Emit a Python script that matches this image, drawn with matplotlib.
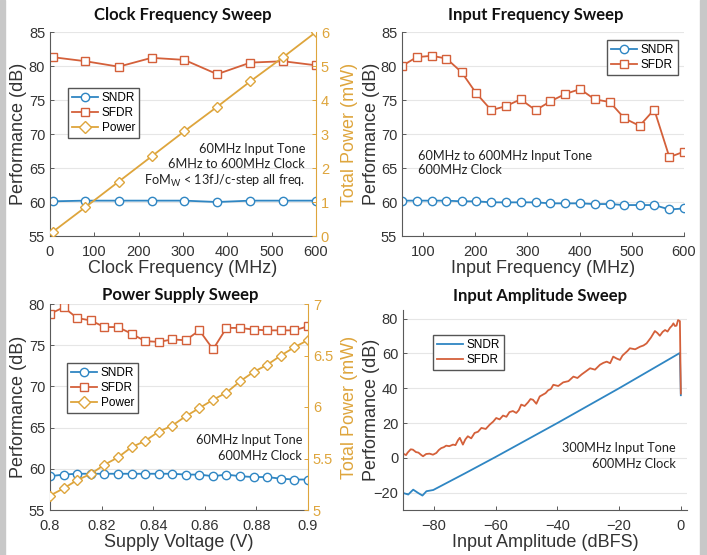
import matplotlib
matplotlib.use("Agg")
import matplotlib.pyplot as plt
from matplotlib.patches import Rectangle
from matplotlib.lines import Line2D

plt.rcParams.update({
    "font.family": ["Liberation Sans", "DejaVu Sans"],
    "font.size": 10,
})

# ---- data ----
# clock frequency sweep
clk_freq = [6, 80, 155, 229, 303, 377, 452, 526, 600]
clk_sndr = [60.1, 60.2, 60.2, 60.2, 60.2, 60.0, 60.2, 60.2, 60.2]
clk_sfdr = [81.3, 80.7, 79.9, 81.2, 80.9, 78.8, 80.5, 80.7, 80.1]
clk_power = [0.12, 0.85, 1.6, 2.34, 3.08, 3.8, 4.55, 5.26, 6.0]

# input frequency sweep
in_freq = [60, 88, 117, 145, 174, 202, 231, 259, 287, 316,
           344, 373, 401, 429, 458, 486, 515, 543, 572, 600]
in_sndr = [60.2, 60.2, 60.2, 60.2, 60.1, 60.1, 59.95, 59.95, 59.95, 59.95,
           59.8, 59.8, 59.8, 59.7, 59.7, 59.55, 59.55, 59.55, 58.9, 59.05]
in_sfdr = [80.0, 81.3, 81.5, 81.1, 79.1, 76.0, 73.5, 74.1, 75.1, 73.5,
           74.8, 75.9, 76.6, 75.1, 74.7, 72.3, 71.2, 73.6, 66.6, 67.4]

# power supply sweep
vdd = [0.8, 0.8053, 0.8105, 0.8158, 0.8211, 0.8263, 0.8316, 0.8368, 0.8421, 0.8474,
       0.8526, 0.8579, 0.8632, 0.8684, 0.8737, 0.8789, 0.8842, 0.8895, 0.8947, 0.9]
vdd_sndr = [59.1, 59.3, 59.4, 59.4, 59.4, 59.4, 59.4, 59.4, 59.4, 59.4,
            59.3, 59.3, 59.1, 59.3, 59.1, 59.0, 59.0, 58.8, 58.7, 58.7]
vdd_sfdr = [78.8, 79.6, 78.3, 78.0, 77.2, 77.2, 76.4, 75.5, 75.4, 75.7,
            75.6, 76.8, 74.5, 77.1, 77.1, 76.9, 76.8, 76.8, 76.8, 77.3]
vdd_power = [5.14, 5.21, 5.29, 5.35, 5.44, 5.51, 5.61, 5.67, 5.76, 5.82,
             5.91, 5.99, 6.07, 6.14, 6.25, 6.34, 6.41, 6.50, 6.58, 6.65]

# input amplitude sweep
amp_sndr_x = [-90, -88.3, -86.7, -85.1, -83.7, -82.4, -80.2, -70, -60, -40, -20, -0.3, 0]
amp_sndr_y = [-20.2, -21.1, -18.3, -20.2, -21.7, -19.2, -18.5, -9, 0.5, 20, 40, 60.3, 36]
amp_sfdr_x = [-90, -89, -88.5, -87.5, -86.8, -85.8, -85, -84, -83.5, -82.5,
              -81.4, -80.3, -79.2, -78.4, -77.6, -76.8, -76, -75, -73.8, -73,
              -72.2, -71.6, -70.6, -69.8, -69, -67.9, -66.8, -65.7, -64.6, -63.2,
              -61.9, -60.8, -59.8, -58.7, -57.6, -56.5, -55.5, -54.4, -53.3, -52.5,
              -51.7, -50.6, -49.5, -48.7, -47.9, -46.8, -45.7, -44.7, -43.8, -43,
              -42.1, -41.3, -39.7, -38.1, -36.4, -34.8, -33.5, -32.1, -30.7, -29.4,
              -27.8, -26.2, -25.1, -24, -22.9, -21.9, -20.8, -19.7, -18.9, -18.1,
              -17.3, -16.5, -14.8, -13.2, -12.1, -11.1, -9.7, -8.4, -7.6, -6.8,
              -5.9, -5.1, -4.3, -3.5, -2.9, -2.4, -1.9, -1.4, -0.9, -0.3, 0]
amp_sfdr_y = [2.4, 1.6, 3.0, 4.9, 4.7, 3.3, 3.0, 1.5, 0.9, 2.2,
              2.4, 1.8, 2.8, 4.5, 5.6, 6.1, 7.0, 6.7, 7.6, 7.3,
              10.1, 11.5, 7.6, 10.6, 12.4, 11.2, 14.3, 15.0, 17.2, 16.6,
              19.1, 20.8, 22.9, 22.1, 24.3, 23.6, 26.3, 26.9, 25.8, 27.4,
              30.6, 29.8, 31.9, 33.8, 33.4, 31.1, 35.3, 36.3, 37.2, 38.8,
              39.6, 42.0, 41.3, 43.4, 44.1, 46.7, 45.9, 48.0, 49.8, 51.5,
              50.7, 53.5, 54.6, 55.3, 54.4, 58.2, 57.1, 56.3, 58.8, 60.1,
              61.4, 63.0, 62.4, 63.9, 64.6, 65.8, 69.1, 72.9, 71.8, 70.2,
              72.4, 73.5, 72.6, 74.8, 75.9, 77.3, 75.8, 76.0, 79.2, 78.6, 37]

C_SNDR = "#2f86c3"
C_SFDR = "#d4603a"
C_PWR = "#dea53c"
C_AX = "#5a5a5a"
C_TXT = "#333333"
W, H = 707, 555


def box(x0, y0, x1, y1):
    return [x0 / W, 1 - y1 / H, (x1 - x0) / W, (y1 - y0) / H]


def fx(x, y):
    return x / W, 1 - y / H


def style(ax, ylab_x):
    for s in ["top", "right"]:
        ax.spines[s].set_visible(False)
    for s in ["left", "bottom"]:
        ax.spines[s].set_color(C_AX)
        ax.spines[s].set_linewidth(0.8)
    ax.tick_params(direction="in", length=3, width=0.7, colors=C_AX,
                   labelcolor=C_TXT, labelsize=10.5)
    ax.tick_params(axis="x", pad=6.5)
    ax.grid(axis="y", color="#e6e6e6", linewidth=0.8)
    ax.set_axisbelow(True)
    ax.set_ylabel("Performance (dB)", fontsize=13, color=C_TXT, va="center")
    ax.yaxis.set_label_coords(ylab_x, 0.5)


def right_axis(ax, ylab_x):
    ax2 = ax.twinx()
    for s in ["top", "left", "bottom"]:
        ax2.spines[s].set_visible(False)
    ax2.spines["right"].set_color(C_PWR)
    ax2.spines["right"].set_linewidth(0.8)
    ax2.tick_params(direction="in", length=3, width=0.7, colors=C_PWR,
                    labelcolor=C_PWR, labelsize=10.5)
    ax2.set_ylabel("Total Power (mW)", fontsize=13, color=C_PWR, va="center")
    ax2.yaxis.set_label_coords(ylab_x, 0.5)
    return ax2


mk = dict(markerfacecolor="white", markersize=6, markeredgewidth=1.0, linewidth=1.3)
leg_kw = dict(fontsize=8.5, frameon=True, fancybox=False, edgecolor="#555555",
              framealpha=1, handlelength=2.2, borderpad=0.35, labelspacing=0.25,
              handletextpad=0.3, borderaxespad=0)
title_kw = dict(fontsize=12, fontweight="bold", family=["Lato", "DejaVu Sans"],
                ha="center", va="center", color="#111111")
note_kw = dict(fontsize=9.2, family=["Lato", "DejaVu Sans"], color="#222222",
               va="center", linespacing=1.3)

fig = plt.figure(figsize=(7.07, 5.55), dpi=100)
fig.patches.append(Rectangle((0, 0), 5 / W, 1, transform=fig.transFigure,
                             color="#c8c8c8", zorder=0))
fig.patches.append(Rectangle((700 / W, 0), 7 / W, 1, transform=fig.transFigure,
                             color="#c8c8c8", zorder=0))

# ---- clock frequency sweep ----
ax1 = fig.add_axes(box(50, 32, 316, 236))
style(ax1, (19 - 50) / 266)
ax1.plot(clk_freq, clk_sndr, "-o", color=C_SNDR, **mk)
ax1.plot(clk_freq, clk_sfdr, "-s", color=C_SFDR, **mk)
ax1.set_xlim(0, 600)
ax1.set_ylim(55, 85)
ax1.set_xticks(range(0, 601, 100))
ax1.set_yticks(range(55, 86, 5))
ax1.set_xlabel("Clock Frequency (MHz)", fontsize=13, color=C_TXT, labelpad=1)
ax1b = right_axis(ax1, (350 - 50) / 266)
ax1b.plot(clk_freq, clk_power, "-D", color=C_PWR, **{**mk, "markersize": 5.5})
ax1b.set_ylim(0, 6)
ax1b.set_yticks(range(0, 7))
h = [Line2D([], [], marker=m, color=c, **mk) for m, c in
     [("o", C_SNDR), ("s", C_SFDR), ("D", C_PWR)]]
ax1b.legend(h, ["SNDR", "SFDR", "Power"], loc="upper left",
            bbox_to_anchor=fx(68, 88), bbox_transform=fig.transFigure, **leg_kw)
fig.text(*fx(183, 15), "Clock Frequency Sweep", **title_kw)
fig.text(*fx(305, 166), "60MHz Input Tone\n6MHz to 600MHz Clock\n"
         "FoM$_\\mathregular{W}$ < 13fJ/c-step all freq.", ha="right", **note_kw)

# ---- input frequency sweep ----
ax2 = fig.add_axes(box(402, 32, 684, 236))
style(ax2, (371 - 402) / 282)
ax2.plot(in_freq, in_sndr, "-o", color=C_SNDR, label="SNDR", **mk)
ax2.plot(in_freq, in_sfdr, "-s", color=C_SFDR, label="SFDR", **mk)
ax2.set_xlim(60, 600)
ax2.set_ylim(55, 85)
ax2.set_xticks(range(100, 601, 100))
ax2.set_yticks(range(55, 86, 5))
ax2.set_xlabel("Input Frequency (MHz)", fontsize=13, color=C_TXT, labelpad=1)
ax2.legend(loc="upper right", bbox_to_anchor=fx(678, 40),
           bbox_transform=fig.transFigure, **leg_kw)
fig.text(*fx(536, 15), "Input Frequency Sweep", **title_kw)
fig.text(*fx(418, 163), "60MHz to 600MHz Input Tone\n600MHz Clock",
         ha="left", **note_kw)

# ---- power supply sweep ----
ax3 = fig.add_axes(box(50, 304, 308, 510))
style(ax3, (19 - 50) / 258)
ax3.plot(vdd, vdd_sndr, "-o", color=C_SNDR, **mk)
ax3.plot(vdd, vdd_sfdr, "-s", color=C_SFDR, **mk)
ax3.set_xlim(0.8, 0.9)
ax3.set_ylim(55, 80)
ax3.set_xticks([0.8, 0.82, 0.84, 0.86, 0.88, 0.9])
ax3.set_xticklabels(["0.8", "0.82", "0.84", "0.86", "0.88", "0.9"])
ax3.set_yticks(range(55, 81, 5))
ax3.set_xlabel("Supply Voltage (V)", fontsize=13, color=C_TXT, labelpad=1)
ax3b = right_axis(ax3, (349 - 50) / 258)
ax3b.plot(vdd, vdd_power, "-D", color=C_PWR, **{**mk, "markersize": 5.5})
ax3b.set_ylim(5, 7)
ax3b.set_yticks([5, 5.5, 6, 6.5, 7])
ax3b.set_yticklabels(["5", "5.5", "6", "6.5", "7"])
ax3b.legend(h, ["SNDR", "SFDR", "Power"], loc="upper left",
            bbox_to_anchor=fx(67, 363), bbox_transform=fig.transFigure, **leg_kw)
fig.text(*fx(180, 295), "Power Supply Sweep", **title_kw)
fig.text(*fx(302, 448), "60MHz Input Tone\n600MHz Clock", ha="right", **note_kw)

# ---- input amplitude sweep ----
ax4 = fig.add_axes(box(403, 310, 687, 510))
style(ax4, (372 - 403) / 284)
ax4.plot(amp_sndr_x, amp_sndr_y, color=C_SNDR, linewidth=1.3, label="SNDR")
ax4.plot(amp_sfdr_x, amp_sfdr_y, color=C_SFDR, linewidth=1.3, label="SFDR")
ax4.set_xlim(-90, 2)
ax4.set_ylim(-30, 85)
ax4.set_xticks(range(-80, 1, 20))
ax4.set_yticks(range(-20, 81, 20))
ax4.set_xlabel("Input Amplitude (dBFS)", fontsize=13, color=C_TXT, labelpad=1)
ax4.legend(loc="upper left", bbox_to_anchor=fx(433, 335),
           bbox_transform=fig.transFigure, **leg_kw)
fig.text(*fx(540, 296), "Input Amplitude Sweep", **title_kw)
fig.text(*fx(676, 456), "300MHz Input Tone\n600MHz Clock", ha="right", **note_kw)

fig.savefig("out.png", dpi=100)
